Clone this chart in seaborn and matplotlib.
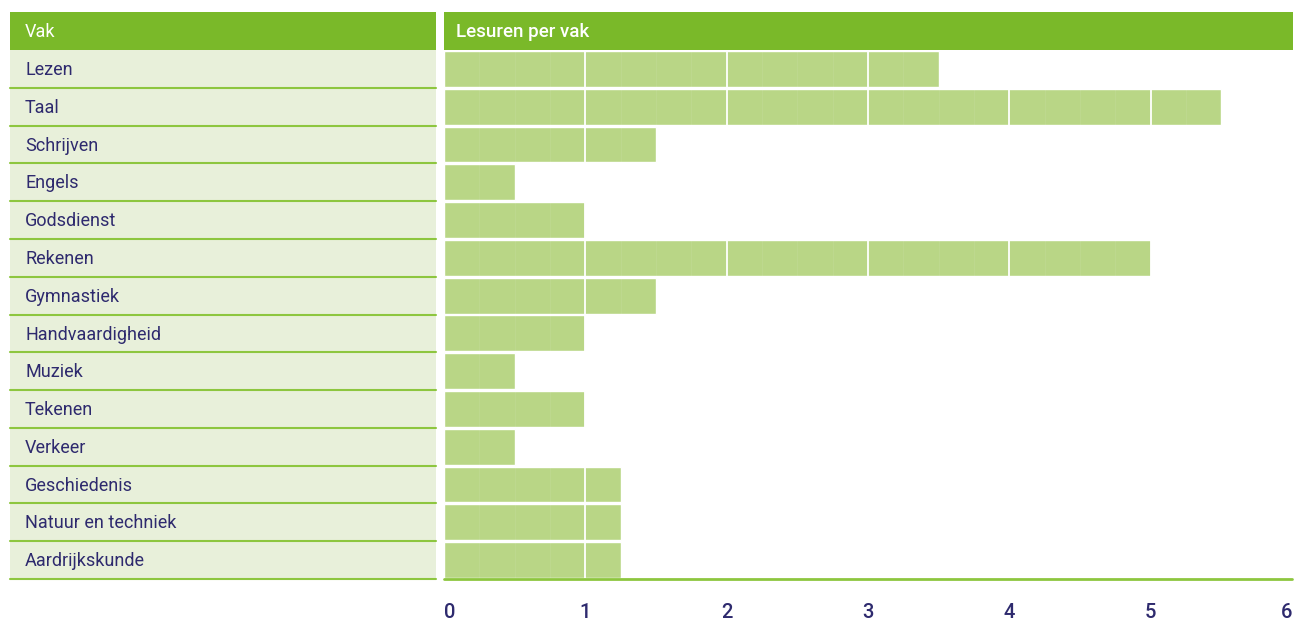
import numpy as np
import pandas as pd
import seaborn as sns
from matplotlib import pyplot as plt
from matplotlib.patches import Rectangle

vakken = ["Lezen", "Taal", "Schrijven", "Engels", "Godsdienst", "Rekenen",
          "Gymnastiek", "Handvaardigheid", "Muziek", "Tekenen", "Verkeer",
          "Geschiedenis", "Natuur en techniek", "Aardrijkskunde"]
lesuren = [3.5, 5.5, 1.5, 0.5, 1, 5, 1.5, 1, 0.5, 1, 0.5, 1.25, 1.25, 1.25]
x_ticks = [0, 1, 2, 3, 4, 5, 6]

df = pd.DataFrame({"vak": vakken, "uren": lesuren})

header_green = "#7ab929"
bar_green = "#b9d686"
row_bg = "#e8f0da"
line_green = "#8dc63f"
navy = "#2e2a6e"

sns.set_style("white")
plt.rcParams["font.family"] = ["Roboto", "DejaVu Sans"]

W, H = 1298, 621
fig = plt.figure(figsize=(W / 100, H / 100), dpi=100)


def box(x0, y0, x1, y1):
    # pixel box (top-left origin) -> figure fraction rect
    return [x0 / W, 1 - y1 / H, (x1 - x0) / W, (y1 - y0) / H]


# header bands
for x0, x1 in [(10, 436), (444, 1293)]:
    r = box(x0, 12, x1, 50)
    fig.patches.append(Rectangle((r[0], r[1]), r[2], r[3], transform=fig.transFigure,
                                 facecolor=header_green, edgecolor="none"))
fig.text(25 / W, 1 - 32 / H, "Vak", color="white", fontsize=13, va="center")
fig.text(456 / W, 1 - 32 / H, "Lesuren per vak", color="white", fontsize=13.5,
         fontweight="medium", va="center")

# left table with subject names
ax_t = fig.add_axes(box(10, 50, 436, 579))
ax_t.set_facecolor(row_bg)
ax_t.set_xlim(0, 1)
ax_t.set_ylim(len(vakken) - 0.5, -0.5)
for i, v in enumerate(vakken):
    ax_t.text(15 / 426, i + 0.03, v, color=navy, fontsize=13, va="center")
    ax_t.axhline(i + 0.5, color=line_green, lw=1.5, clip_on=False)
ax_t.set_xticks([])
ax_t.set_yticks([])
for s in ax_t.spines.values():
    s.set_visible(False)

# bar chart
ax = fig.add_axes(box(444, 50, 1292, 579))
sns.barplot(data=df, y="vak", x="uren", order=vakken, color=bar_green,
            width=0.95, saturation=1, ax=ax)
ax.set_xlim(4 / 142, 6)
ax.set_ylim(len(vakken) - 0.5, -0.5)
ax.set_xticks(x_ticks)
ax.set_xticks(np.arange(0.25, 6, 0.25), minor=True)
ax.set_axisbelow(False)
ax.grid(axis="x", which="major", color="white", lw=1.3)
ax.grid(axis="x", which="minor", color="white", lw=0.8, alpha=0.07)
ax.grid(axis="y", visible=False)
ax.set_yticks([])
ax.set_xlabel("")
ax.set_ylabel("")
for s in ["top", "left", "right", "bottom"]:
    ax.spines[s].set_visible(False)
ax.axhline(len(vakken) - 0.5, color=line_green, lw=2, zorder=5, clip_on=False)
ax.tick_params(axis="x", which="both", length=0, pad=17, labelsize=14.5,
               labelcolor=navy)
labels = ax.set_xticklabels([str(t) for t in x_ticks], fontweight="medium")
labels[0].set_ha("left")
labels[-1].set_ha("right")

fig.savefig("out.png", dpi=100)
